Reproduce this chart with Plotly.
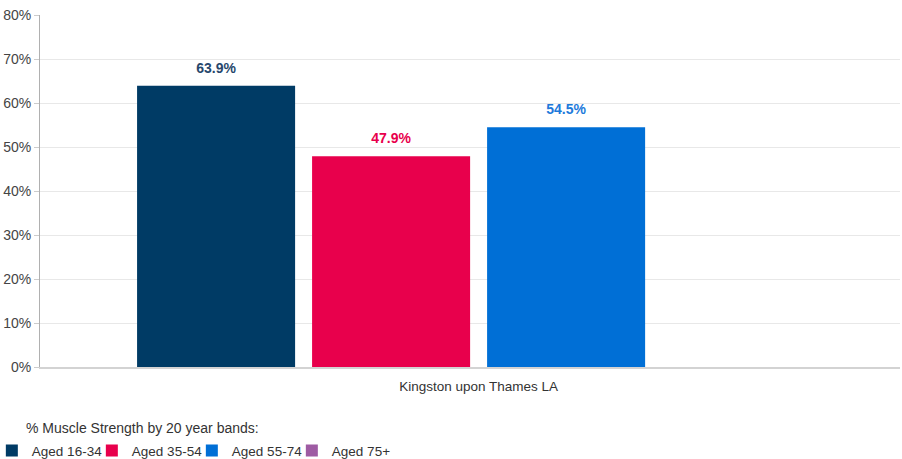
import plotly.graph_objects as go

categories = ["Kingston upon Thames LA"]
series_names = ["Aged 16-34", "Aged 35-54", "Aged 55-74", "Aged 75+"]
series_values = [[63.9], [47.9], [54.5], [None]]
bar_colors = ["#003B65", "#E8004C", "#006FD6", "#9E5BA3"]
label_colors = ["#27476C", "#E8004C", "#1D7ADB", "#9E5BA3"]
y_ticks = [0, 10, 20, 30, 40, 50, 60, 70, 80]
y_tick_labels = [f"{v}%" for v in y_ticks]
legend_title = "% Muscle Strength by 20 year bands:"

FONT = "Liberation Sans, Arial, sans-serif"
GAP = 0.186

fig = go.Figure()
for name, vals, col in zip(series_names, series_values, bar_colors):
    fig.add_trace(go.Bar(
        name=name, x=categories, y=vals, offsetgroup=name,
        marker=dict(color=col, line=dict(width=0)),
        hoverinfo="skip",
    ))
for name, vals, lcol in zip(series_names, series_values, label_colors):
    fig.add_trace(go.Scatter(
        name=name, x=categories, y=vals, offsetgroup=name,
        mode="markers+text",
        marker=dict(size=14, opacity=0),
        text=[None if v is None else f"{v:.1f}%" for v in vals],
        textposition="top center",
        textfont=dict(family=FONT, size=14, color=lcol, weight="bold"),
        cliponaxis=False, showlegend=False, hoverinfo="skip",
    ))

fig.update_layout(
    width=902, height=459,
    margin=dict(l=40, r=2, t=15, b=92, autoexpand=False),
    paper_bgcolor="white", plot_bgcolor="white",
    barmode="group", bargap=GAP, bargroupgap=0.097,
    scattermode="group", scattergap=GAP,
    font=dict(family=FONT, size=13, color="#444"),
    showlegend=True,
    legend=dict(
        orientation="h", xref="paper", yref="container",
        x=-0.056, xanchor="left", y=0.018, yanchor="middle",
        bgcolor="rgba(0,0,0,0)",
        font=dict(family=FONT, size=13.5, color="#333"),
        itemwidth=30, tracegroupgap=0,
        entrywidth=55, entrywidthmode="pixels",
    ),
    xaxis=dict(
        type="category", range=[-0.51, 0.49],
        showline=True, linecolor="#D3D3D3", linewidth=2,
        showgrid=False, ticks="", ticklabelstandoff=6,
        tickfont=dict(family=FONT, size=13.5, color="#333"),
        fixedrange=True,
    ),
    yaxis=dict(
        range=[0, 80], tickvals=y_ticks, ticktext=y_tick_labels,
        showgrid=True, gridcolor="#E8E8E8", gridwidth=1,
        showline=True, linecolor="#B0B0B0", linewidth=1,
        ticks="outside", ticklen=5, tickcolor="#CCCCCC",
        tickfont=dict(family=FONT, size=14, color="#444"),
        zeroline=False, fixedrange=True,
    ),
    annotations=[dict(
        text=legend_title, xref="paper", yref="paper",
        x=-0.0186, y=-0.173, xanchor="left", yanchor="middle",
        showarrow=False, font=dict(family=FONT, size=14, color="#333"),
    )],
)

fig.write_html(
    "out.html",
    config={"displayModeBar": False},
    post_script="document.body.style.margin='0';document.body.style.overflow='hidden';",
)
